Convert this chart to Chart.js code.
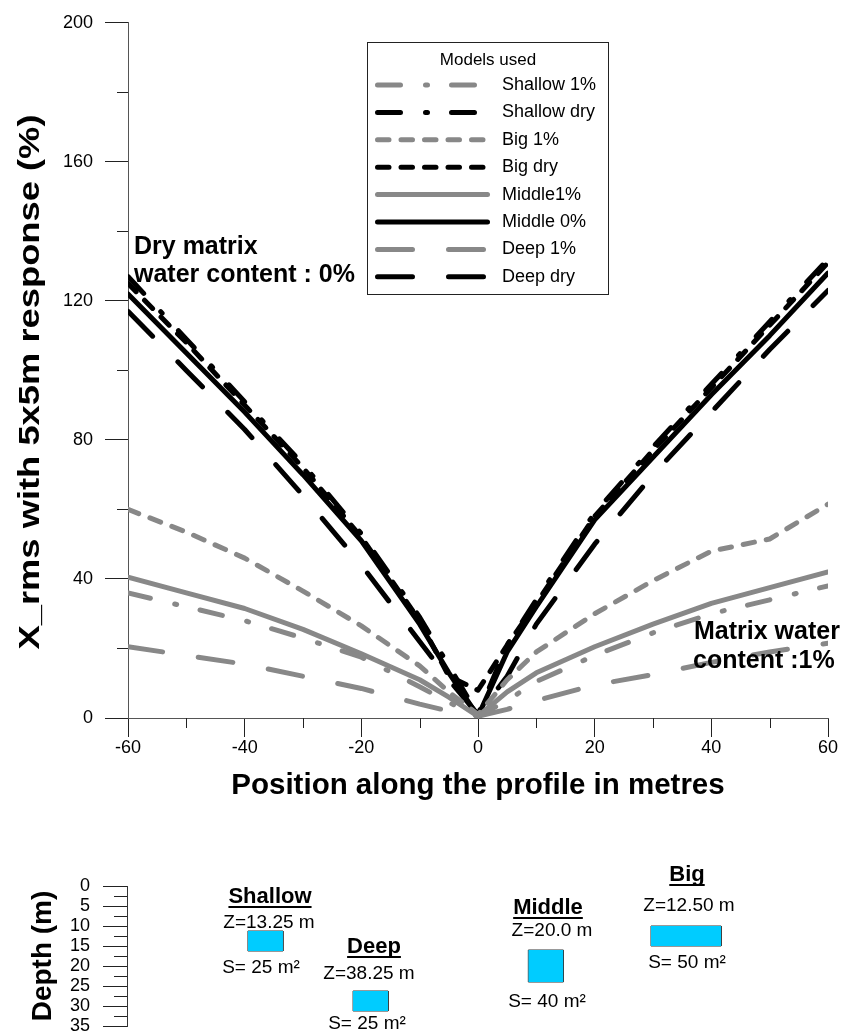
<!DOCTYPE html>
<html>
<head>
<meta charset="utf-8">
<script src="https://cdn.jsdelivr.net/npm/chart.js@4.4.1/dist/chart.umd.min.js"></script>
<style>
    html, body { margin: 0; padding: 0; background: #fff; }
    #wrap { position: relative; width: 846px; height: 1034px; overflow: hidden; }
    #mainChart { position: absolute; left: 0; top: 0; }
    #depthChart { position: absolute; left: 0; top: 840px; }
</style>
</head>
<body>
<div id="wrap">
    <canvas id="mainChart" width="846" height="830"></canvas>
    <canvas id="depthChart" width="846" height="250"></canvas>
</div>
<script>
/* =========================
   DATA
========================= */
const positions = [-60, -50, -40, -30, -20, -10, -5, 0, 5, 10, 20, 30, 40, 50, 60];

const shallow1   = [36, 32, 28, 23, 17.5, 9, 4.5, 0.5, 5, 10.5, 18, 24.5, 30, 34, 38];
const shallowDry = [127, 109, 91, 73, 53, 29, 15, 1, 21, 34, 59, 78, 96, 114, 132];
const big1       = [60, 53.5, 46, 36.5, 26.5, 15, 7.5, 1, 11, 19, 30, 39.5, 48, 51.5, 61.5];
const bigDry     = [125, 108, 90, 72, 52, 28, 12, 8, 21, 33, 58, 77, 95, 113, 131];
const middle1    = [40.5, 36, 31.5, 25.5, 18.5, 11, 6, 0.5, 7.5, 13, 20.5, 27, 33, 37.5, 42];
const middleDry  = [122, 105, 88, 70, 51, 27, 13, 0.5, 19, 32, 57, 75, 93, 110, 128];
const deep1      = [20.5, 18, 15.5, 12, 8.5, 4, 2, 0.5, 2.5, 5, 9.5, 12.5, 16, 19, 21.5];
const deepDry    = [117, 100, 83, 64, 44, 22, 11, 1, 12, 27, 50, 70, 88, 106, 123];

const seriesNames = ['Shallow 1%', 'Shallow dry', 'Big 1%', 'Big dry', 'Middle1%', 'Middle 0%', 'Deep 1%', 'Deep dry'];
const seriesValues = [shallow1, shallowDry, big1, bigDry, middle1, middleDry, deep1, deepDry];

// bottom panel: source bodies
const boxNames  = ['Shallow', 'Deep', 'Middle', 'Big'];
const boxZText  = ['Z=13.25 m', 'Z=38.25 m', 'Z=20.0 m', 'Z=12.50 m'];
const boxSText  = ['S= 25 m\u00b2', 'S= 25 m\u00b2', 'S= 40 m\u00b2', 'S= 50 m\u00b2'];
const boxLeft   = [-39.3, -21.3, 8.7, 29.7];
const boxRight  = [-33.3, -15.3, 14.7, 41.7];
const boxTop    = [11.25, 26.25, 16, 10];
const boxBottom = [16.25, 31.25, 24, 15];

/* =========================
   STYLE
========================= */
const FONT = "'Liberation Sans', Arial, sans-serif";
Chart.defaults.font.family = FONT;
Chart.defaults.color = '#000';

const GRAY = '#888888';
const BLACK = '#000000';
const seriesColors = [GRAY, BLACK, GRAY, BLACK, GRAY, BLACK, GRAY, BLACK];
const dashShallow = [23, 25, 2, 24];
const dashBig = [11.5, 12];
const dashDeep = [35, 36];
const seriesDash = [dashShallow, dashShallow, dashBig, dashBig, [], [], dashDeep, dashDeep];

/* =========================
   PLUGINS
========================= */
// minor ticks between the labelled ones
function minorTicksPlugin(xMinor, yMinor, xLen, yLen) {
    return {
        id: 'minorTicks',
        afterDraw(chart) {
            const ctx = chart.ctx;
            ctx.save();
            ctx.strokeStyle = '#222';
            ctx.lineWidth = 1;
            ctx.beginPath();
            if (xMinor) {
                const xs = chart.scales.x;
                const y0 = chart.chartArea.bottom;
                xMinor.forEach(v => {
                    const px = Math.round(xs.getPixelForValue(v)) + 0.5;
                    ctx.moveTo(px, y0);
                    ctx.lineTo(px, y0 + xLen);
                });
            }
            if (yMinor) {
                const ys = chart.scales.y;
                const x0 = chart.chartArea.left;
                yMinor.forEach(v => {
                    const py = Math.round(ys.getPixelForValue(v)) + 0.5;
                    ctx.moveTo(x0, py);
                    ctx.lineTo(x0 - yLen, py);
                });
            }
            ctx.stroke();
            ctx.restore();
        }
    };
}

// rotated y title, stretched along its length like the original
const yTitlePlugin = {
    id: 'yTitle',
    afterDraw(chart) {
        const ctx = chart.ctx;
        const text = 'X_rms with 5x5m response (%)';
        ctx.save();
        ctx.font = 'bold 29px ' + FONT;
        const w = ctx.measureText(text).width;
        ctx.translate(31, 382);
        ctx.rotate(-Math.PI / 2);
        ctx.scale(535 / w, 1);
        ctx.fillStyle = '#000';
        ctx.textAlign = 'center';
        ctx.textBaseline = 'middle';
        ctx.fillText(text, 0, 0);
        ctx.restore();
    }
};

const legendPlugin = {
    id: 'modelsLegend',
    afterDraw(chart) {
        const ctx = chart.ctx;
        ctx.save();
        ctx.fillStyle = '#fff';
        ctx.fillRect(367, 42, 242, 253);
        ctx.strokeStyle = '#222';
        ctx.lineWidth = 1;
        ctx.strokeRect(367.5, 42.5, 241, 252);

        ctx.fillStyle = '#000';
        ctx.font = '17px ' + FONT;
        ctx.textAlign = 'center';
        ctx.textBaseline = 'middle';
        ctx.fillText('Models used', 488, 60);

        ctx.font = '18px ' + FONT;
        ctx.textAlign = 'left';
        chart.data.datasets.forEach((ds, i) => {
            const y = 85 + i * 27.4;
            ctx.beginPath();
            ctx.setLineDash(ds.borderDash);
            ctx.lineCap = 'round';
            ctx.lineWidth = 5;
            ctx.strokeStyle = ds.borderColor;
            ctx.moveTo(377.5, y);
            ctx.lineTo(487.5, y);
            ctx.stroke();
            ctx.setLineDash([]);
            ctx.fillText(ds.label, 502, y);
        });
        ctx.restore();
    }
};

const notesPlugin = {
    id: 'notes',
    afterDraw(chart) {
        const ctx = chart.ctx;
        ctx.save();
        ctx.fillStyle = '#000';
        ctx.font = 'bold 25px ' + FONT;
        ctx.textAlign = 'left';
        ctx.textBaseline = 'alphabetic';
        ctx.fillText('Dry matrix', 134, 254);
        ctx.fillText('water content : 0%', 134, 282);
        ctx.fillText('Matrix water', 694, 639);
        ctx.fillText('content :1%', 693, 668);
        ctx.restore();
    }
};

const boxLabelsPlugin = {
    id: 'boxLabels',
    afterDraw(chart) {
        const ctx = chart.ctx;
        // canvas positions of name / Z / S texts for each body
        const spots = [
            { n: [270, 57], z: [269, 83], s: [261, 128] },
            { n: [374, 107], z: [369, 134], s: [367, 184] },
            { n: [548, 68], z: [552, 91], s: [547, 162] },
            { n: [687, 35], z: [689, 66], s: [687, 123] }
        ];
        ctx.save();
        ctx.fillStyle = '#000';
        ctx.strokeStyle = '#000';
        ctx.textAlign = 'center';
        ctx.textBaseline = 'middle';
        boxNames.forEach((name, i) => {
            const p = spots[i];
            ctx.font = 'bold 22px ' + FONT;
            ctx.fillText(name, p.n[0], p.n[1]);
            const w = ctx.measureText(name).width;
            ctx.lineWidth = 2;
            ctx.beginPath();
            ctx.moveTo(p.n[0] - w / 2, p.n[1] + 10);
            ctx.lineTo(p.n[0] + w / 2, p.n[1] + 10);
            ctx.stroke();
            ctx.font = '19px ' + FONT;
            ctx.fillText(boxZText[i], p.z[0], p.z[1]);
            ctx.fillText(boxSText[i], p.s[0], p.s[1]);
        });
        ctx.restore();
    }
};

/* =========================
   MAIN CHART
========================= */
function renderMainChart() {
    const datasets = seriesNames.map((name, i) => ({
        label: name,
        data: positions.map((x, j) => ({ x: x, y: seriesValues[i][j] })),
        borderColor: seriesColors[i],
        borderDash: seriesDash[i],
        borderWidth: 5,
        borderCapStyle: 'round',
        borderJoinStyle: 'round',
        pointRadius: 0,
        fill: false,
        tension: 0,
        order: seriesColors[i] === BLACK ? 1 : 0
    }));

    new Chart(document.getElementById('mainChart'), {
        type: 'line',
        data: { datasets: datasets },
        options: {
            responsive: false,
            animation: false,
            layout: { padding: { top: 20, right: 18, left: 0, bottom: 0 } },
            plugins: {
                legend: { display: false },
                tooltip: { enabled: false }
            },
            scales: {
                x: {
                    type: 'linear',
                    min: -60,
                    max: 60,
                    ticks: { stepSize: 20, font: { size: 18 }, padding: 0, color: '#000' },
                    grid: { drawOnChartArea: false, tickLength: 19, tickColor: '#222' },
                    border: { color: '#555', width: 1 },
                    title: {
                        display: true,
                        text: 'Position along the profile in metres',
                        font: { size: 29.5, weight: 'bold' },
                        color: '#000',
                        padding: { top: 0, bottom: 26 }
                    },
                    afterFit: s => { s.height = 112; }
                },
                y: {
                    type: 'linear',
                    min: 0,
                    max: 200,
                    ticks: { stepSize: 40, font: { size: 18 }, padding: 12, color: '#000' },
                    grid: { drawOnChartArea: false, tickLength: 23, tickColor: '#222' },
                    border: { color: '#555', width: 1 },
                    afterFit: s => { s.width = 128; }
                }
            }
        },
        plugins: [
            minorTicksPlugin([-50, -30, -10, 10, 30, 50], [20, 60, 100, 140, 180], 10, 11),
            yTitlePlugin,
            legendPlugin,
            notesPlugin
        ]
    });
}

/* =========================
   DEPTH PANEL
========================= */
function renderDepthChart() {
    const datasets = [];
    boxNames.forEach((name, i) => {
        // cyan body
        datasets.push({
            data: [{ x: boxLeft[i], y: boxBottom[i] }, { x: boxRight[i], y: boxBottom[i] }],
            fill: { value: boxTop[i] },
            backgroundColor: '#00CCFF',
            borderWidth: 0,
            pointRadius: 0
        });
        // outline
        datasets.push({
            data: [
                { x: boxLeft[i], y: boxTop[i] },
                { x: boxRight[i], y: boxTop[i] },
                { x: boxRight[i], y: boxBottom[i] },
                { x: boxLeft[i], y: boxBottom[i] },
                { x: boxLeft[i], y: boxTop[i] }
            ],
            borderColor: '#333',
            borderWidth: 1,
            fill: false,
            pointRadius: 0
        });
    });

    const minorDepth = [];
    for (let d = 2.5; d < 35; d += 5) minorDepth.push(d);

    new Chart(document.getElementById('depthChart'), {
        type: 'line',
        data: { datasets: datasets },
        options: {
            responsive: false,
            animation: false,
            layout: { padding: { top: 46, right: 18, left: 0, bottom: 64 } },
            plugins: {
                legend: { display: false },
                tooltip: { enabled: false }
            },
            scales: {
                x: { type: 'linear', min: -60, max: 60, display: false },
                y: {
                    type: 'linear',
                    reverse: true,
                    min: 0,
                    max: 35,
                    ticks: { stepSize: 5, autoSkip: false, font: { size: 18 }, padding: 13, color: '#000' },
                    grid: { drawOnChartArea: false, tickLength: 24, tickColor: '#222' },
                    border: { color: '#333', width: 1 },
                    title: {
                        display: true,
                        text: 'Depth (m)',
                        font: { size: 28, weight: 'bold' },
                        color: '#000',
                        padding: { top: 26, bottom: 0 }
                    },
                    afterFit: s => { s.width = 127; }
                }
            }
        },
        plugins: [minorTicksPlugin(null, minorDepth, 0, 13), boxLabelsPlugin]
    });
}

/* =========================
   INITIAL LOAD
========================= */
renderMainChart();
renderDepthChart();
</script>
</body>
</html>
